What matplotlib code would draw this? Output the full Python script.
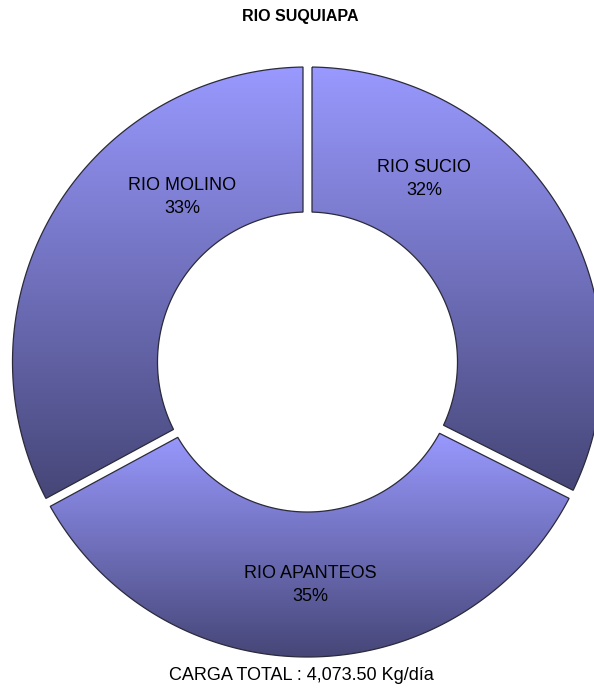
import matplotlib
matplotlib.use("Agg")
import matplotlib.pyplot as plt
import numpy as np
from matplotlib.patches import Polygon
from matplotlib.colors import LinearSegmentedColormap

plt.rcParams['font.family'] = ['Liberation Sans', 'DejaVu Sans']

# data (kg/dia per river), clockwise from the top
rivers = ["RIO SUCIO", "RIO APANTEOS", "RIO MOLINO"]
loads = [1320.0, 1413.5, 1340.0]
title = "RIO SUQUIAPA"
footer = "CARGA TOTAL : 4,073.50 Kg/día"

# label spots in pixel coords (x, y from top)
label_xy = [(424, 179), (310, 585), (182, 197)]

W, H = 594, 690
cx, cy = 307.5, H - 362
R, r = 295, 150
gap = 9.0

light = (153/255, 153/255, 255/255)
dark = (70/255, 70/255, 120/255)
cmap = LinearSegmentedColormap.from_list("grad", [dark, light])

fig = plt.figure(figsize=(W/100, H/100), dpi=100)
ax = fig.add_axes([0, 0, 1, 1])
ax.set_xlim(0, W)
ax.set_ylim(0, H)
ax.axis('off')


def slice_poly(a_start, a_end):
    # a_start > a_end (going clockwise), degrees
    dR = np.degrees(np.arcsin(gap/2/R))
    dr = np.degrees(np.arcsin(gap/2/r))
    outer = np.radians(np.linspace(a_start - dR, a_end + dR, 200))
    inner = np.radians(np.linspace(a_end + dr, a_start - dr, 120))
    xs = np.concatenate([cx + R*np.cos(outer), cx + r*np.cos(inner)])
    ys = np.concatenate([cy + R*np.sin(outer), cy + r*np.sin(inner)])
    return np.column_stack([xs, ys])


total = sum(loads)
angle = 90.0
for name, val, (lx, ly) in zip(rivers, loads, label_xy):
    sweep = 360.0*val/total
    pts = slice_poly(angle, angle - sweep)
    angle -= sweep
    poly = Polygon(pts, closed=True, facecolor='none', edgecolor='#2a2a3a', lw=0.9, zorder=3)
    ax.add_patch(poly)
    y0, y1 = pts[:, 1].min(), pts[:, 1].max()
    x0, x1 = pts[:, 0].min(), pts[:, 0].max()
    grad = np.linspace(0, 1, 256).reshape(-1, 1)
    im = ax.imshow(grad, extent=[x0, x1, y0, y1], origin='lower', cmap=cmap,
                   aspect='auto', zorder=2, interpolation='bilinear')
    im.set_clip_path(poly)
    pct = 100*val/total
    ax.text(lx, H - ly, f"{name}\n{pct:.0f}%", ha='center', va='center',
            fontsize=13, linespacing=1.5, zorder=4)

ax.set_xlim(0, W)
ax.set_ylim(0, H)

fig.text(300/W, 1 - 17/H, title, ha='center', va='center', fontsize=11.5, fontweight='bold')
fig.text(301/W, 1 - 676/H, footer, ha='center', va='center', fontsize=13)

fig.savefig("out.png", dpi=100)
